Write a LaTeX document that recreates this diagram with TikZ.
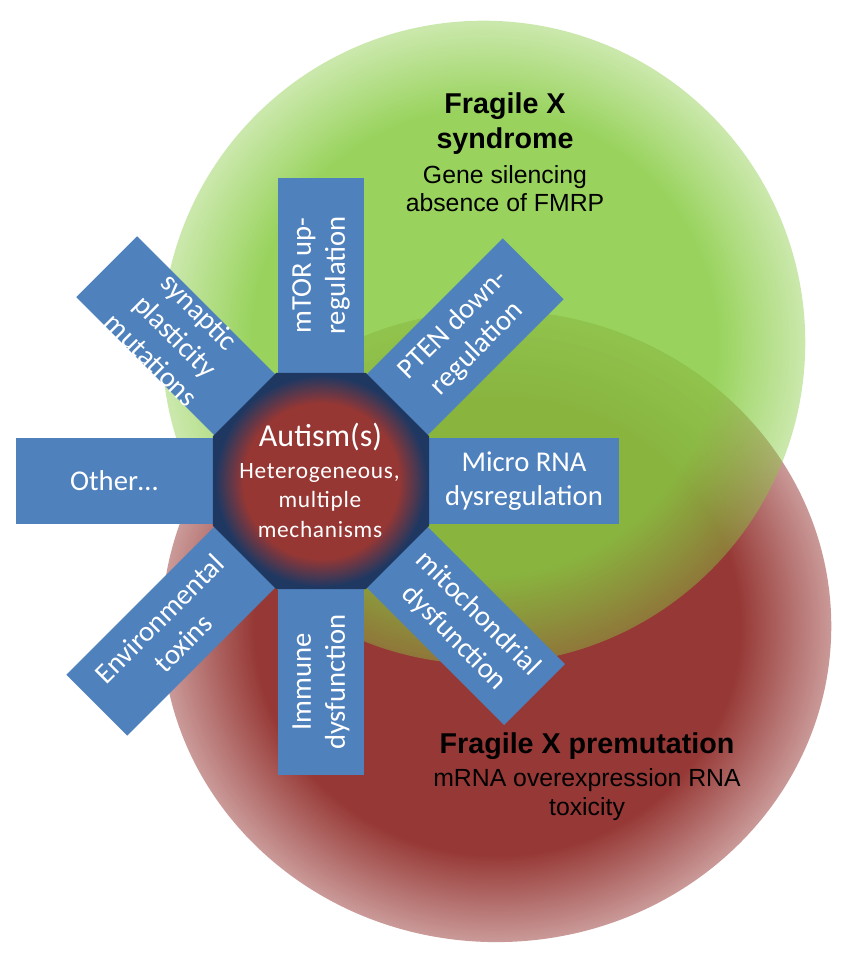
\documentclass[tikz,border=0pt]{standalone}
\usepackage{fontspec}
\setmainfont{Liberation Sans}
\newfontfamily\calib{Carlito}
\usetikzlibrary{shapes.geometric,fadings}
\definecolor{armblue}{RGB}{79,129,189}
\definecolor{greenc}{RGB}{135,203,65}
\definecolor{redc}{RGB}{150,56,53}
\definecolor{octred}{RGB}{150,55,52}
\definecolor{octblue}{RGB}{30,56,98}
\pgfdeclareradialshading{softshade}{\pgfpointorigin}{color(0bp)=(pgftransparent!0); color(18bp)=(pgftransparent!0); color(25bp)=(pgftransparent!50); color(50bp)=(pgftransparent!50)}
\pgfdeclarefading{softedge}{\pgfuseshading{softshade}}
\pgfdeclareradialshading{octshade}{\pgfpointorigin}{color(0bp)=(octred); color(18bp)=(octred); color(24.5bp)=(octblue); color(50bp)=(octblue)}
\tikzset{
  armbox/.style={fill=armblue},
  armtext/.style={text=white, font=\calib\fontsize{21.5}{25.5}\selectfont, align=center, inner sep=0pt},
  fxbold/.style={font=\fontsize{21.5}{25}\selectfont\bfseries, anchor=base, inner sep=0pt},
  fxreg/.style={font=\fontsize{18.6}{22}\selectfont, anchor=base, inner sep=0pt},
  autbig/.style={font=\calib\fontsize{24}{28}\selectfont, text=white, anchor=base, inner sep=0pt},
  autsmall/.style={font=\calib\fontsize{17.5}{21}\selectfont\addfontfeature{LetterSpace=3}, text=white, anchor=base, inner sep=0pt},
}
\begin{document}
\begin{tikzpicture}[x=0.75pt,y=-0.75pt]
\useasboundingbox (0,0) rectangle (853,963);
% circles
\fill[redc, path fading=softedge] (497,626) ellipse [x radius=251.25pt, y radius=237pt];
\fill[greenc, fill opacity=0.85, path fading=softedge] (484,342) circle [radius=241.5pt];
% arms
\begin{scope}[shift={(321,481)}, rotate=0]
  \fill[armbox] (0,-43) rectangle (298,43);
  \node[armtext] (micro) at (203,0) {Micro RNA\\dysregulation};
\end{scope}
\begin{scope}[shift={(321,481)}, rotate=45]
  \fill[armbox] (0,-43) rectangle (300,43);
  \node[armtext, rotate=45] (pten) at (204,0) {PTEN down-\\regulation};
\end{scope}
\begin{scope}[shift={(321,481)}, rotate=90]
  \fill[armbox] (0,-43) rectangle (303,43);
  \node[armtext, rotate=90] (mtor) at (205.5,0) {mTOR up-\\regulation};
\end{scope}
\begin{scope}[shift={(321,481)}, rotate=135]
  \fill[armbox] (0,-43) rectangle (303,43);
  \node[armtext, rotate=-45] (synaptic) at (205.5,0) {synaptic\\plasticity\\mutations};
\end{scope}
\begin{scope}[shift={(321,481)}, rotate=180]
  \fill[armbox] (0,-43) rectangle (305,43);
  \node[armtext] (other) at (207,0) {Other…};
\end{scope}
\begin{scope}[shift={(321,481)}, rotate=225]
  \fill[armbox] (0,-43) rectangle (317,43);
  \node[armtext, rotate=45] (env) at (212,0) {Environmental\\toxins};
\end{scope}
\begin{scope}[shift={(321,481)}, rotate=270]
  \fill[armbox] (0,-43) rectangle (294,43);
  \node[armtext, rotate=90] (immune) at (201,0) {Immune\\dysfunction};
\end{scope}
\begin{scope}[shift={(321,481)}, rotate=315]
  \fill[armbox] (0,-43) rectangle (302,43);
  \node[armtext, rotate=-45] (mito) at (205,0) {mitochondrial\\dysfunction};
\end{scope}
% octagon
\node[regular polygon, regular polygon sides=8, minimum size=175.4pt, inner sep=0pt, outer sep=0pt, shade, shading=octshade] (autism) at (321,481) {};
\node[autbig] (aut1) at (320.5,446) {Autism(s)};
\node[autsmall] (aut2) at (319.5,478) {Heterogeneous,};
\node[autsmall] (aut3) at (320,507) {multiple};
\node[autsmall] (aut4) at (320,537) {mechanisms};
% Fragile X syndrome
\node[fxbold] (fxs1) at (505,114) {Fragile X};
\node[fxbold] (fxs2) at (505,149) {syndrome};
\node[fxreg] (fxs3) at (505,183) {Gene silencing};
\node[fxreg] (fxs4) at (505,211) {absence of FMRP};
% Fragile X premutation
\node[fxbold] (fxp1) at (587,753) {Fragile X premutation};
\node[fxreg] (fxp2) at (587,786) {mRNA overexpression RNA};
\node[fxreg] (fxp3) at (587,815) {toxicity};
\end{tikzpicture}
\end{document}
